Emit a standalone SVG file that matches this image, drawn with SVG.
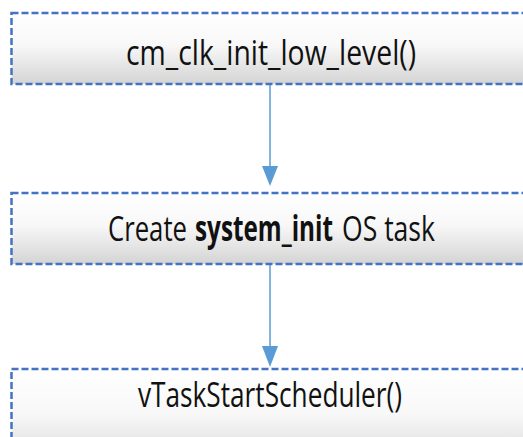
<svg xmlns="http://www.w3.org/2000/svg" width="523" height="437" viewBox="0 0 523 437">
  <defs>
    <linearGradient id="boxFill" x1="0" y1="0" x2="0" y2="1">
      <stop offset="0" stop-color="#ffffff"/>
      <stop offset="0.45" stop-color="#f8f8f8"/>
      <stop offset="1" stop-color="#d4d4d4"/>
    </linearGradient>
    <style>
      .box { fill: url(#boxFill); stroke: #4472c4; stroke-width: 2.5; stroke-dasharray: 7 3; }
      .label { font-family: "Open Sans", "Liberation Sans", sans-serif; font-size: 35px; fill: #111111; }
      .bold { font-weight: bold; }
      .conn { stroke: #5b9bd5; stroke-width: 1.5; fill: none; }
      .head { fill: #5b9bd5; }
    </style>
  </defs>

  <g id="connectors">
    <line class="conn" x1="270" y1="85" x2="270" y2="168"/>
    <path class="head" d="M262,166 L278,166 L270,186 Z"/>
    <line class="conn" x1="270" y1="265" x2="270" y2="348"/>
    <path class="head" d="M262,346 L278,346 L270,367 Z"/>
  </g>

  <!-- labels are set in a horizontally condensed face: scale(0.75 1), lengths given in unscaled units -->
  <g id="node-clk-init">
    <rect class="box" x="11.5" y="13" width="600" height="71"/>
    <text class="label" transform="translate(126 65) scale(0.75 1)" textLength="386.7" lengthAdjust="spacingAndGlyphs">cm_clk_init_low_level()</text>
  </g>

  <g id="node-system-init">
    <rect class="box" x="11.5" y="193" width="600" height="71"/>
    <text class="label" transform="translate(108 241) scale(0.75 1)" textLength="105.3" lengthAdjust="spacingAndGlyphs">Create</text>
    <text class="label bold" transform="translate(195 241) scale(0.75 1)" textLength="184" lengthAdjust="spacingAndGlyphs">system_init</text>
    <text class="label" transform="translate(342 241) scale(0.75 1)" textLength="124" lengthAdjust="spacingAndGlyphs">OS task</text>
  </g>

  <g id="node-scheduler">
    <rect class="box" x="11.5" y="369" width="600" height="100"/>
    <text class="label" transform="translate(138 407) scale(0.75 1)" textLength="352" lengthAdjust="spacingAndGlyphs">vTaskStartScheduler()</text>
  </g>
</svg>
